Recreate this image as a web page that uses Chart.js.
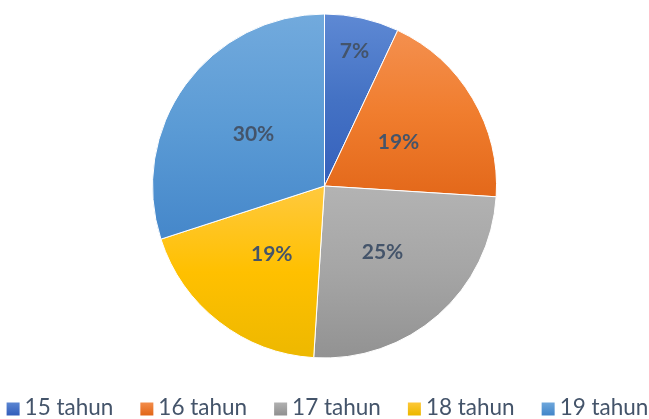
<!DOCTYPE html>
<html>
<head>
<meta charset="utf-8">
<script src="https://cdn.jsdelivr.net/npm/chart.js@4"></script>
<style>
html,body{margin:0;padding:0;background:#fff;}
#wrap{width:649px;height:419px;position:relative;}
</style>
</head>
<body>
<div id="wrap"><canvas id="c" width="649" height="419"></canvas></div>
<script>
const categories = ["15 tahun", "16 tahun", "17 tahun", "18 tahun", "19 tahun"];
const values = [7, 19, 25, 19, 30];
const labelTexts = ["7%", "19%", "25%", "19%", "30%"];

const colorTop = ["#5E89D4", "#F4904F", "#B3B3B3", "#FFC93E", "#72AADD"];
const colorMid = ["#4472C4", "#F07D2E", "#A5A5A5", "#FFC000", "#5B9BD5"];
const colorBot = ["#3560BC", "#E3681A", "#929292", "#EDB800", "#4587CA"];
const labelRadiusFrac = [0.80, 0.50, 0.51, 0.50, 0.51];

function sliceYRange(chart, i) {
  const ca = chart.chartArea;
  const cx = (ca.left + ca.right) / 2, cy = (ca.top + ca.bottom) / 2;
  const r = Math.min(ca.right - ca.left, ca.bottom - ca.top) / 2;
  const total = values.reduce((a, b) => a + b, 0);
  let cum = 0;
  for (let k = 0; k < i; k++) cum += values[k];
  const a0 = -Math.PI / 2 + cum / total * 2 * Math.PI;
  const a1 = a0 + values[i] / total * 2 * Math.PI;
  const ys = [cy, cy + r * Math.sin(a0), cy + r * Math.sin(a1)];
  for (const ext of [-Math.PI / 2, Math.PI / 2, 3 * Math.PI / 2]) {
    if (ext >= a0 && ext <= a1) ys.push(cy + r * Math.sin(ext));
  }
  return [Math.min(...ys), Math.max(...ys)];
}

function fillFor(ctx, i) {
  const chart = ctx.chart;
  if (!chart.chartArea) return colorMid[i];
  const [y0, y1] = sliceYRange(chart, i);
  const g = chart.ctx.createLinearGradient(0, y0, 0, y1);
  g.addColorStop(0, colorTop[i]);
  g.addColorStop(0.5, colorMid[i]);
  g.addColorStop(1, colorBot[i]);
  return g;
}

const labelPlugin = {
  id: 'sliceLabels',
  afterDatasetsDraw(chart) {
    const meta = chart.getDatasetMeta(0);
    const c = chart.ctx;
    c.save();
    c.font = 'bold 21px Lato, "Open Sans", sans-serif';
    c.fillStyle = '#44546A';
    c.textAlign = 'center';
    c.textBaseline = 'middle';
    meta.data.forEach((arc, i) => {
      const p = arc.getProps(['x', 'y', 'startAngle', 'endAngle', 'outerRadius']);
      const mid = (p.startAngle + p.endAngle) / 2;
      const rr = p.outerRadius * labelRadiusFrac[i];
      c.fillText(labelTexts[i], p.x + rr * Math.cos(mid), p.y + rr * Math.sin(mid));
    });
    c.restore();
  }
};

const legendPlugin = {
  id: 'bottomLegend',
  afterDraw(chart) {
    const c = chart.ctx;
    c.save();
    c.font = '22.5px Lato, "Open Sans", sans-serif';
    c.textBaseline = 'middle';
    c.textAlign = 'left';
    const box = 13, boxGap = 5, itemGap = 27;
    const widths = categories.map(t => box + boxGap + c.measureText(t).width);
    const total = widths.reduce((a, b) => a + b, 0) + itemGap * (categories.length - 1);
    let x = (chart.width - total) / 2 + 3;
    const y = 408;
    categories.forEach((t, i) => {
      const g = c.createLinearGradient(0, y - box / 2, 0, y + box / 2);
      g.addColorStop(0, colorTop[i]);
      g.addColorStop(1, colorBot[i]);
      c.fillStyle = g;
      c.fillRect(x, y - box / 2 + 1, box, box);
      c.fillStyle = '#44546A';
      c.fillText(t, x + box + boxGap, y);
      x += widths[i] + itemGap;
    });
    c.restore();
  }
};

new Chart(document.getElementById('c'), {
  type: 'pie',
  data: {
    labels: categories,
    datasets: [{
      data: values,
      backgroundColor: (ctx) => fillFor(ctx, ctx.dataIndex),
      borderColor: '#ffffff',
      borderWidth: 1
    }]
  },
  options: {
    responsive: false,
    animation: false,
    layout: { padding: { top: 13.5, bottom: 60.5, left: 0, right: 0 } },
    plugins: {
      tooltip: { enabled: false },
      legend: { display: false }
    }
  },
  plugins: [labelPlugin, legendPlugin]
});
</script>
</body>
</html>
